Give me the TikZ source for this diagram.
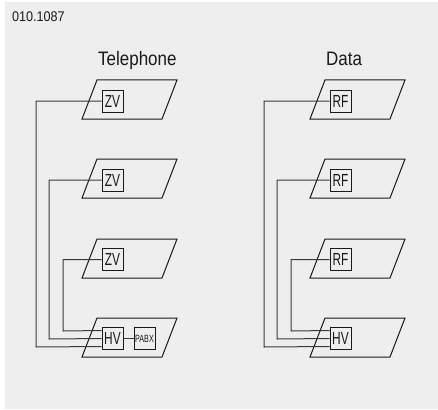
\documentclass[tikz,border=0pt]{standalone}
\usepackage{fontspec}
\setmainfont{Liberation Sans}
\newfontfamily\titlefont[FakeStretch=0.87]{Liberation Sans}
\newfontfamily\codefont[FakeStretch=0.9]{Liberation Sans}
\newfontfamily\boxfont[FakeStretch=0.68]{Liberation Sans}
\definecolor{bggray}{HTML}{EEEEEE}
\definecolor{inkc}{HTML}{1A1A1A}
\definecolor{wirec}{HTML}{3A3A3A}
\begin{document}
\begin{tikzpicture}[x=1pt,y=-1pt,
  plane/.style={draw=inkc,line width=1pt,line join=miter},
  unitbox/.style={draw=inkc,line width=0.9pt,fill=bggray,minimum width=21pt,minimum height=22pt,inner sep=0pt,font=\boxfont\fontsize{17.5}{17.5}\selectfont,text=inkc},
  smallbox/.style={unitbox,font=\boxfont\fontsize{10.5}{10.5}\selectfont},
  wire/.style={draw=wirec,line width=1pt},
  title/.style={anchor=base west,inner sep=0pt,font=\titlefont\fontsize{19.5}{19.5}\selectfont,text=inkc}]
\fill[white] (0,0) rectangle (438,409);
\fill[bggray] (5,2) rectangle (438,409);
\useasboundingbox (0,0) rectangle (438,409);

\node[anchor=base west,inner sep=0pt,font=\codefont\fontsize{14}{14}\selectfont,text=inkc] (code) at (12,21.5) {010.1087};
\node[title] (teltitle) at (98,66) {Telephone};
\node[title] (datatitle) at (326,66) {Data};

% planes
\foreach \dx in {0,228}{
  \foreach \t in {80,159,239,318}{
    \draw[plane] (97+\dx,\t) -- (177+\dx,\t) -- (162+\dx,\t+39) -- (82+\dx,\t+39) -- cycle;
  }
}

% Telephone units
\node[unitbox] (zv1) at (112.5,101) {ZV};
\node[unitbox] (zv2) at (112.5,180) {ZV};
\node[unitbox] (zv3) at (112.5,259.5) {ZV};
\node[unitbox] (hv1) at (112.5,338.5) {HV};
\node[smallbox] (pabx) at (144.5,338.5) {PABX};

% Data units
\node[unitbox] (rf1) at (340.5,101) {RF};
\node[unitbox] (rf2) at (340.5,180) {RF};
\node[unitbox] (rf3) at (340.5,259.5) {RF};
\node[unitbox] (hv2) at (340.5,338.5) {HV};

% Telephone wiring
\coordinate (t1a) at (36,101);   \coordinate (t1b) at (36,347);
\coordinate (t2a) at (49,180);   \coordinate (t2b) at (49,339);
\coordinate (t3a) at (63,259.5); \coordinate (t3b) at (63,331);
\coordinate (h1c) at ([yshift=-8pt]hv1.west);
\coordinate (h1b) at (hv1.west);
\coordinate (h1a) at ([yshift=8pt]hv1.west);
\draw[wire] (zv1.west) -- (t1a) -- (t1b) -- (h1c);
\draw[wire] (zv2.west) -- (t2a) -- (t2b) -- (h1b);
\draw[wire] (zv3.west) -- (t3a) -- (t3b) -- (h1a);
\draw[wire] (hv1.east) -- (pabx.west);

% Data wiring
\coordinate (d1a) at (264,101);   \coordinate (d1b) at (264,347);
\coordinate (d2a) at (277,180);   \coordinate (d2b) at (277,339);
\coordinate (d3a) at (291,259.5); \coordinate (d3b) at (291,331);
\coordinate (h2c) at ([yshift=-8pt]hv2.west);
\coordinate (h2b) at (hv2.west);
\coordinate (h2a) at ([yshift=8pt]hv2.west);
\draw[wire] (rf1.west) -- (d1a) -- (d1b) -- (h2c);
\draw[wire] (rf2.west) -- (d2a) -- (d2b) -- (h2b);
\draw[wire] (rf3.west) -- (d3a) -- (d3b) -- (h2a);
\end{tikzpicture}
\end{document}
